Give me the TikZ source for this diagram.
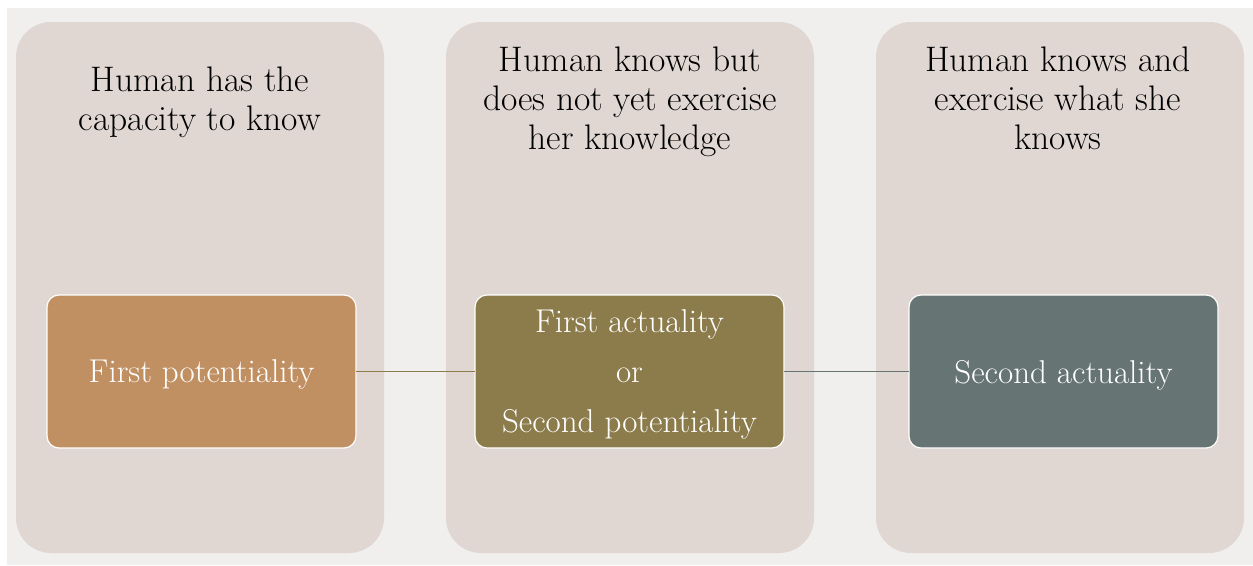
\documentclass[tikz,border=0pt]{standalone}
\usepackage{fontspec}
\definecolor{canvasbg}{HTML}{F0EFED}
\definecolor{panelfill}{HTML}{E0D7D2}
\definecolor{potfill}{HTML}{C19062}
\definecolor{midfill}{HTML}{8C7C4B}
\definecolor{actfill}{HTML}{667473}
\begin{document}
\begin{tikzpicture}[x=1pt,y=-1pt,
  panel/.style={fill=panelfill, rounded corners=35pt, inner sep=0pt, outer sep=0pt,
                minimum width=368pt, minimum height=531pt},
  heading/.style={inner sep=0pt, align=center, text=black,
                  font=\fontsize{35.5}{39}\selectfont},
  stagebox/.style={draw=white, line width=1.2pt, rounded corners=12pt,
                   inner sep=0pt, outer sep=0pt, minimum width=309pt, minimum height=153pt,
                   text=white, align=center, font=\fontsize{33}{50}\selectfont},
  link/.style={line width=1.2pt}
]
  % page and background
  \useasboundingbox (0,0) rectangle (1253,565);
  \fill[canvasbg] (7,8) rectangle (1253,565);

  % three columns
  \node[panel] (p1) at (200,287.5) {};
  \node[panel] (p2) at (630,287.5) {};
  \node[panel] (p3) at (1060,287.5) {};

  % column headings
  \node[heading] (h1) at (200,102) {Human has the\\capacity to know};
  \node[heading] (h2) at (630,102.2) {Human knows but\\does not yet exercise\\her knowledge};
  \node[heading] (h3) at (1058,98.7) {Human knows and\\exercise what she\\knows};

  % stage boxes
  \node[stagebox, fill=potfill, text depth=0pt] (b1) at (201.5,371.5) {First potentiality};
  \node[stagebox, fill=midfill] (b2) at (629.5,371.5)
       {\rule{0pt}{28pt}First actuality\\or\\Second potentiality};
  \node[stagebox, fill=actfill, text depth=0pt] (b3) at (1063.5,371.5) {Second actuality};

  % connectors between the stages
  \draw[link, draw=midfill] (b1.east) -- (b2.west);
  \draw[link, draw=actfill] (b2.east) -- (b3.west);
\end{tikzpicture}
\end{document}
